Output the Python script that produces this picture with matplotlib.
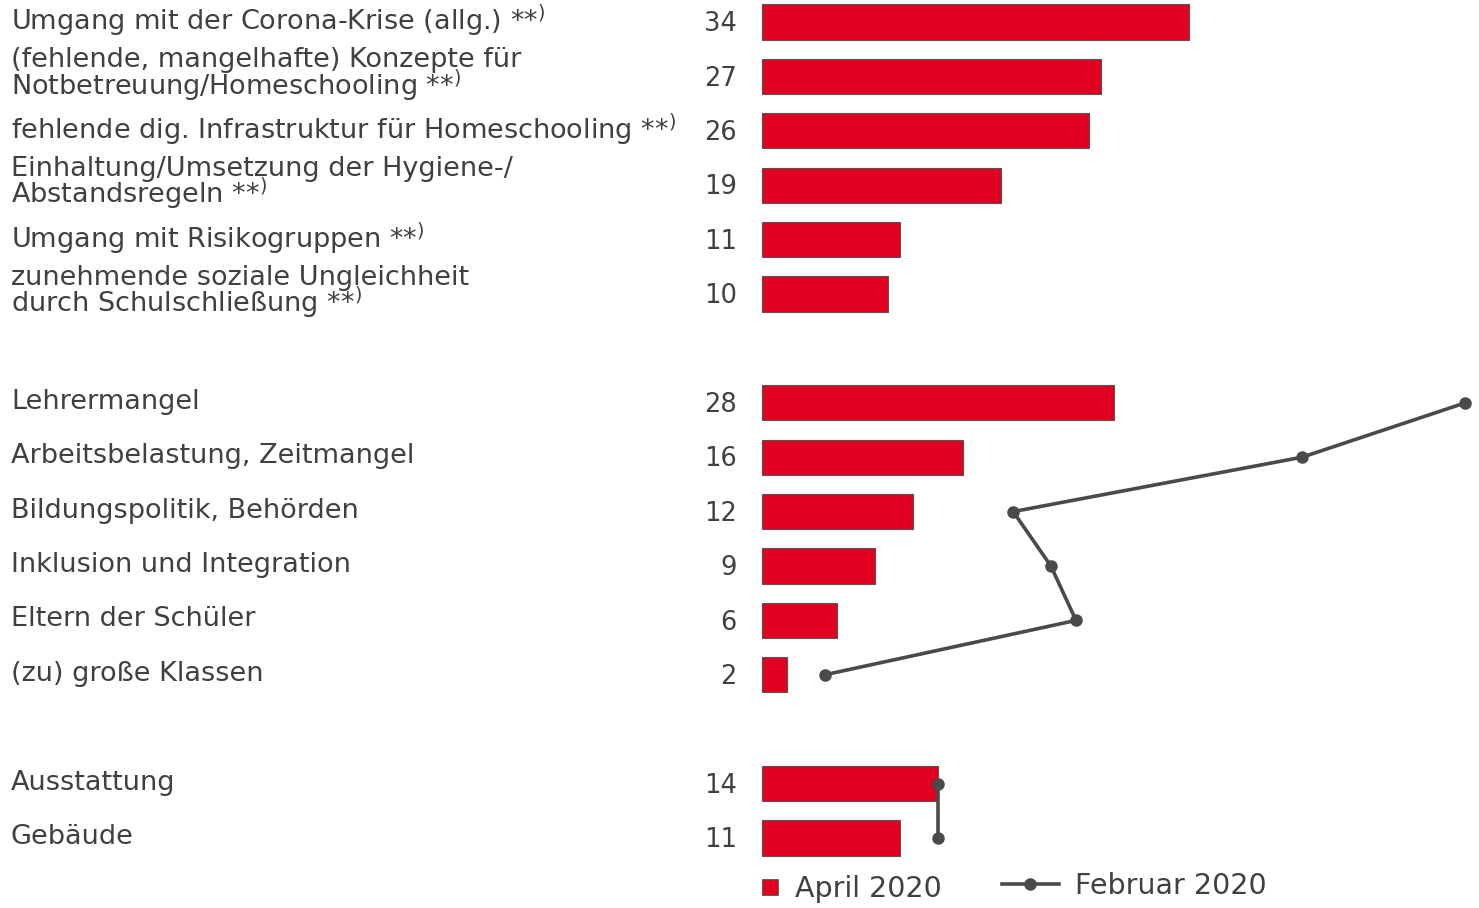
import matplotlib
matplotlib.use("Agg")
import matplotlib.pyplot as plt
from matplotlib import transforms
from matplotlib.lines import Line2D

SUP = r"**$^{\mathsf{)}}$"
labels = [
    "Umgang mit der Corona-Krise (allg.) " + SUP,
    "(fehlende, mangelhafte) Konzepte für\nNotbetreuung/Homeschooling " + SUP,
    "fehlende dig. Infrastruktur für Homeschooling " + SUP,
    "Einhaltung/Umsetzung der Hygiene-/\nAbstandsregeln " + SUP,
    "Umgang mit Risikogruppen " + SUP,
    "zunehmende soziale Ungleichheit\ndurch Schulschließung " + SUP,
    "Lehrermangel",
    "Arbeitsbelastung, Zeitmangel",
    "Bildungspolitik, Behörden",
    "Inklusion und Integration",
    "Eltern der Schüler",
    "(zu) große Klassen",
    "Ausstattung",
    "Gebäude",
]
april = [34, 27, 26, 19, 11, 10, 28, 16, 12, 9, 6, 2, 14, 11]
feb_group1 = [56, 43, 20, 23, 25, 5]
feb_group2 = [14, 14]
positions = [0, 1, 2, 3, 4, 5, 7, 8, 9, 10, 11, 12, 14, 15]

RED = "#E10020"
TXT = "#404040"
LINE = "#4A4A4A"

W, H = 1479, 908
fig = plt.figure(figsize=(W / 100, H / 100), dpi=100)
ax = fig.add_axes([0, 0, 1, 1])
px_per_unit = 12.56
x0 = 762
ax.set_xlim(-x0 / px_per_unit, (W - x0) / px_per_unit)
row = 54.4
y0 = 22
ax.set_ylim((H - y0) / row, -y0 / row)
ax.axis("off")

ax.barh(positions, april, height=0.65, color=RED, edgecolor="#555555", linewidth=0.8, zorder=2)

ax.plot(feb_group1, positions[6:12], color=LINE, lw=2.6, marker="o", ms=8, zorder=3)
ax.plot(feb_group2, positions[12:14], color=LINE, lw=2.6, marker="o", ms=8, zorder=3)

trans = transforms.blended_transform_factory(fig.transFigure, ax.transData)
for lab, v, p in zip(labels, april, positions):
    ls = 0.78 if "\n" in lab else 1.0
    ax.text(11 / W, p - 0.02, lab, transform=trans, ha="left", va="center", fontsize=19.5,
            color=TXT, linespacing=ls, family="DejaVu Sans")
    ax.text(737 / W, p + 0.04, str(v), transform=trans, ha="right", va="center", fontsize=18.5,
            color=TXT, family="DejaVu Sans")

h1 = Line2D([], [], marker="s", color=RED, markeredgecolor="#555555", markeredgewidth=0.6,
            linestyle="none", markersize=11)
fig.legend([h1], ["April 2020"], loc="center left", bbox_to_anchor=(757 / W, 1 - 889 / H),
           frameon=False, fontsize=20.5, labelcolor=TXT, handlelength=0.9, handletextpad=0.45,
           borderaxespad=0, borderpad=0)
h2 = Line2D([], [], color=LINE, lw=2.6, marker="o", ms=8)
fig.legend([h2], ["Februar 2020"], loc="center left", bbox_to_anchor=(1002 / W, 1 - 886 / H),
           frameon=False, fontsize=20.5, labelcolor=TXT, handlelength=2.0, handletextpad=0.55,
           borderaxespad=0, borderpad=0)

fig.savefig("out.png", dpi=100)
